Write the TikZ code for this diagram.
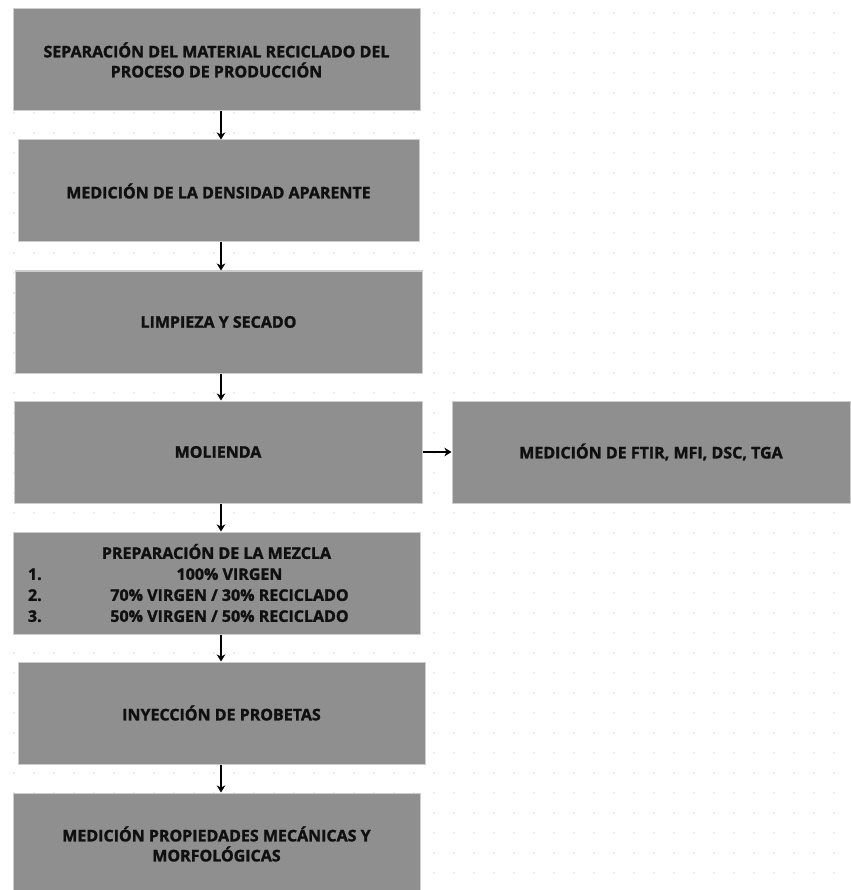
\documentclass[tikz,border=0pt]{standalone}
\usepackage{fontspec}
\setmainfont{Open Sans}[BoldFeatures={FakeBold=1.6}]
\usepackage{xcolor}
\usepackage{tikz}
\usetikzlibrary{positioning, arrows.meta}
\definecolor{boxgray}{HTML}{8F8F8F}
\definecolor{edgegray}{HTML}{CDCDCD}
\definecolor{dotgray}{HTML}{DCDCDC}
\definecolor{inkdark}{HTML}{101010}

\tikzset{
  stepbox/.style={fill=boxgray, draw=edgegray, line width=1pt,
        minimum width=407pt, minimum height=102pt, inner sep=0pt,
        align=center, text=inkdark,
        font=\fontsize{16}{20}\selectfont\bfseries},
  flowarrow/.style={line width=1.6pt, -{Stealth[length=7pt, width=8.5pt, inset=2pt]}}
}
\newcommand{\mixline}[2]{\makebox[26pt][l]{#1}\makebox[351pt][c]{#2}}

\begin{document}
\begin{tikzpicture}[x=1pt, y=-1pt]
  \path[use as bounding box, fill=white] (0,0) rectangle (850,890);
  % dotted canvas
  \foreach \i in {0,...,42}
    \foreach \j in {0,...,44}
      \fill[dotgray] (14+20*\i, 13+20*\j) circle[radius=0.8pt];

  \node[stepbox] (sep) at (216.5,60) {SEPARACIÓN DEL MATERIAL RECICLADO DEL\\PROCESO DE PRODUCCIÓN};
  \node[stepbox, minimum width=401pt] (dens) at (218.5,191) {MEDICIÓN DE LA DENSIDAD APARENTE};
  \node[stepbox] (limp) at (218.5,322) {LIMPIEZA Y SECADO};
  \node[stepbox, minimum width=408pt] (mol) at (218,452) {MOLIENDA};
  \node[stepbox, minimum width=398pt] (ftir) at (651,452) {MEDICIÓN DE FTIR, MFI, DSC, TGA};
  \node[stepbox, font=\fontsize{16}{21}\selectfont\bfseries] (mez) at (216.5,583) {%
    PREPARACIÓN DE LA MEZCLA\\
    \mixline{1.}{100\% VIRGEN}\\
    \mixline{2.}{70\% VIRGEN / 30\% RECICLADO}\\
    \mixline{3.}{50\% VIRGEN / 50\% RECICLADO}};
  \node[stepbox] (iny) at (221.5,713) {INYECCIÓN DE PROBETAS};
  \node[stepbox] (prop) at (216.5,844) {MEDICIÓN PROPIEDADES MECÁNICAS Y\\MORFOLÓGICAS};

  \coordinate (axis) at (221,0);
  \draw[flowarrow] (sep.south -| axis) -- (dens.north -| axis);
  \draw[flowarrow] (dens.south -| axis) -- (limp.north -| axis);
  \draw[flowarrow] (limp.south -| axis) -- (mol.north -| axis);
  \draw[flowarrow] (mol.south -| axis) -- (mez.north -| axis);
  \draw[flowarrow] (mez.south -| axis) -- (iny.north -| axis);
  \draw[flowarrow] (iny.south -| axis) -- (prop.north -| axis);
  \draw[flowarrow] (mol.east) -- (ftir.west);
\end{tikzpicture}
\end{document}
